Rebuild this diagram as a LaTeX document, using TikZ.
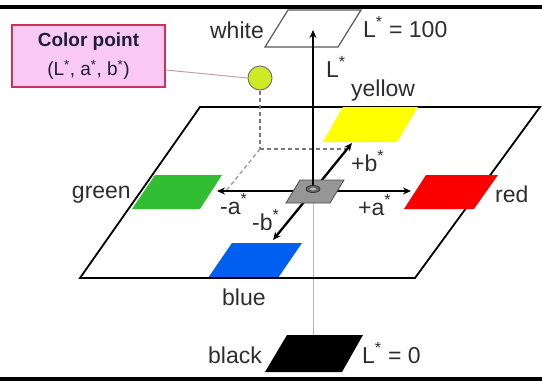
\documentclass[tikz,border=0pt]{standalone}
\usepackage{fontspec}
\setmainfont{Liberation Sans}
\usetikzlibrary{arrows.meta}
\definecolor{txt}{RGB}{45,45,45}
\definecolor{cgreen}{RGB}{50,190,50}
\definecolor{cred}{RGB}{250,0,0}
\definecolor{cblue}{RGB}{0,95,240}
\definecolor{cyellow}{RGB}{255,255,0}
\definecolor{cgray}{RGB}{150,150,150}
\definecolor{cpfill}{RGB}{250,200,245}
\definecolor{cpborder}{RGB}{205,50,90}
\definecolor{cptext}{RGB}{30,30,60}
\definecolor{ptfill}{RGB}{205,235,35}
\definecolor{dashc}{RGB}{120,120,120}
\begin{document}
\begin{tikzpicture}[x=1pt,y=-1pt,
  lbl/.style={font=\fontsize{23}{25}\selectfont, text=txt, inner sep=0pt},
  axisline/.style={line width=2.3pt, -{Stealth[length=8pt,width=7pt]}},
  planeline/.style={line width=1.8pt},
  projdash/.style={dashc, line width=1.4pt, dash pattern=on 4pt off 3pt},
  cpbox/.style={draw=cpborder, fill=cpfill, line width=1.8pt, minimum width=153pt, minimum height=62pt, inner sep=0pt, align=center, text=cptext, font=\fontsize{19}{22}\selectfont},
  cpline/.style={draw={rgb,255:red,190;green,160;blue,175}, line width=1pt},
  ptstyle/.style={circle, draw=dashc, line width=1pt, fill=ptfill, minimum size=24pt, inner sep=0pt}
]
\useasboundingbox (0,0) rectangle (542,381);
% borders
\draw[line width=4pt] (0,7) -- (542,7);
\draw[line width=4pt] (0,379) -- (542,379);

% thin vertical line
\draw[cgray!70, line width=0.8pt] (313,203) -- (313,336);

% plane
\draw[planeline] (200,107) -- (540,107) -- (415,278) -- (80,278) -- cycle;

% color patches
\fill[cyellow] (343,107) -- (418,107) -- (397,142) -- (323,142) -- cycle;
\fill[cgreen] (155,175) -- (222,175) -- (200,209) -- (132,209) -- cycle;
\fill[cred] (426,175) -- (498,175) -- (474,209) -- (404,209) -- cycle;
\fill[cblue] (232,243) -- (302,243) -- (278,278) -- (208,278) -- cycle;
\draw[planeline] (208,278) -- (278,278);
\fill[black] (287,335) -- (363,335) -- (342,372) -- (265,372) -- cycle;

% white plane
\draw[black!65, line width=1.2pt, fill=white] (288,10) -- (361,10) -- (338,47) -- (265,47) -- cycle;

% coordinates
\coordinate (c) at (313,191);
\coordinate (ctop) at (313,189);
\coordinate (am) at (217,191);
\coordinate (ap) at (411,191);
\coordinate (bp) at (352,143);
\coordinate (bm) at (273,240);
\coordinate (lt) at (313,30);
\coordinate (proj) at (260,149);
\coordinate (bproj) at (347,149);
\coordinate (aproj) at (226,191);

% color point
\node[ptstyle] (pt) at (260,78) {};
\node[cpbox] (cp) at (88.5,56) {\textbf{Color point}\\[7pt]{\fontsize{19}{20}\selectfont(L\textsuperscript{*}, a\textsuperscript{*}, b\textsuperscript{*})}};
\draw[cpline] ([yshift=-14pt]cp.east) -- (pt.west);

% dashed projections
\draw[projdash] (pt.south) -- (proj);
\draw[projdash] (proj) -- (bproj);
\draw[projdash, dashc!70] (proj) -- (aproj);

% axes
\draw[axisline] (c) -- (am);
\draw[axisline] (c) -- (ap);
\draw[axisline] (c) -- (bp);
\draw[axisline] (c) -- (bm);

% gray centre
\draw[fill=cgray, draw=black!70, line width=0.8pt] (300,180) -- (344,180) -- (330,203) -- (286,203) -- cycle;
\draw[axisline] (ctop) -- (lt);
\draw[fill=black!60, draw=black!80, line width=0.8pt] (ctop) ellipse (7pt and 3.5pt);
\fill[cgray!70] (ctop) ellipse (3pt and 1.5pt);

% labels
\node[lbl, anchor=base east] (lwhite) at (264,38) {white};
\node[lbl, anchor=base west] (l100) at (363,37) {L\textsuperscript{*} = 100};
\node[lbl, anchor=base west] (lL) at (326,77) {L\textsuperscript{*}};
\node[lbl, anchor=base west] (lyellow) at (351,96) {yellow};
\node[lbl, anchor=base west] (lpb) at (351,171) {+b\textsuperscript{*}};
\node[lbl, anchor=base west] (lred) at (495,202) {red};
\node[lbl, anchor=base west] (lpa) at (358,215) {+a\textsuperscript{*}};
\node[lbl, anchor=base east] (lgreen) at (131,198) {green};
\node[lbl, anchor=base west] (lma) at (220,214) {-a\textsuperscript{*}};
\node[lbl, anchor=base west] (lmb) at (252,230) {-b\textsuperscript{*}};
\node[lbl, anchor=base west] (lblue) at (222,305) {blue};
\node[lbl, anchor=base east] (lblack) at (262,363) {black};
\node[lbl, anchor=base west] (l0) at (362,363) {L\textsuperscript{*} = 0};
\end{tikzpicture}
\end{document}
